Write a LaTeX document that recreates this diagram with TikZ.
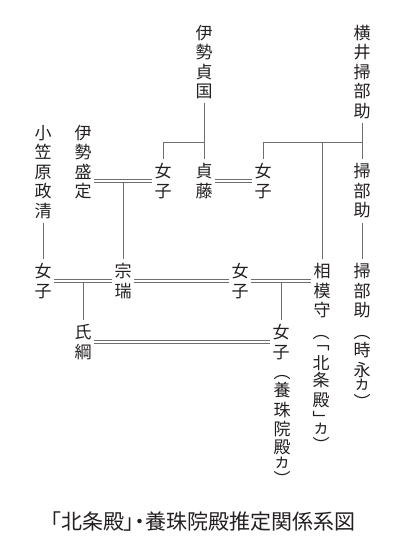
\documentclass[tikz,border=0pt]{standalone}
\usepackage{fontspec}
\newfontfamily\jp{Noto Sans CJK JP}
\newfontfamily\jpcap[RawFeature=+palt]{Noto Sans CJK JP}
\definecolor{linegray}{HTML}{6E6E6E}
\definecolor{ink}{HTML}{231F20}

\begin{document}
\begin{tikzpicture}[x=1pt,y=-1pt,
  every node/.style={font=\jp\fontsize{17pt}{19.5pt}\selectfont,text=ink,align=center,inner xsep=2pt,inner ysep=4pt},
  kin/.style={draw=linegray,line width=0.75pt},
  wed/.style={draw=linegray,line width=0.75pt,double=white,double distance=2.2pt}]
  \useasboundingbox (0,0) rectangle (406,543);
  % first generation
  \node (sadakuni) at (204,62) {伊\\勢\\貞\\国};
  \node (yokoi) at (362,72) {横\\井\\掃\\部\\助};
  \node (ogasawara) at (43,172) {小\\笠\\原\\政\\清};
  \node (morisada) at (83,162) {伊\\勢\\盛\\定};
  % second generation
  \node (jo1) at (163,181) {女\\子};
  \node (sadafuji) at (204,181) {貞\\藤};
  \node (jo2) at (263,181) {女\\子};
  \node (kamon2) at (362,191) {掃\\部\\助};
  % third generation
  \node (jo3) at (43,281) {女\\子};
  \node (souzui) at (123,281) {宗\\瑞};
  \node (jo4) at (240,281) {女\\子};
  \node (sagami) at (322,291) {相\\模\\守};
  \node (kamon3) at (362,291) {掃\\部\\助};
  % fourth generation
  \node (ujitsuna) at (83,342) {氏\\綱};
  \node (jo5) at (281,342) {女\\子};
  % notes
  \node[anchor=north] (tokinaga) at (362,331) {︵\\[-1pt]時\\永\\[-6pt]ヵ\\[-1pt]︶};
  \node[anchor=north] (hojo) at (321,331) {︵\\[-8pt]﹁\\北\\[-2pt]条\\殿\\﹂\\[-12pt]ヵ\\[-1pt]︶};
  \node[anchor=north] (yoju) at (282,371) {︵\\[-1pt]養\\珠\\院\\[-1.5pt]殿\\[-6pt]ヵ\\[-1pt]︶};
  \node[font=\jpcap\fontsize{21pt}{24pt}\selectfont] (title) at (203,522) {「北条殿」・養珠院殿推定関係系図};
  % parents and children
  \coordinate (b1) at (204,142);
  \coordinate (b2) at (362,142);
  \draw[kin] (sadakuni) -- (sadafuji);
  \draw[kin] (b1) -| (jo1);
  \draw[kin] (yokoi) -- (kamon2);
  \draw[kin] (b2) -| (jo2);
  \draw[kin] (sagami) -- (sagami |- b2);
  \draw[kin] (kamon2) -- (kamon3);
  \draw[kin] (ogasawara) -- (jo3);
  \draw[kin] (souzui) -- (souzui |- jo1);
  \draw[kin] (ujitsuna) -- (ujitsuna |- jo3);
  \draw[kin] (jo5) -- (jo5 |- jo4);
  % marriages
  \draw[wed] (jo1.west) -- (jo1.west -| morisada.east);
  \draw[wed] (sadafuji) -- (jo2);
  \draw[wed] (jo3) -- (souzui);
  \draw[wed] (souzui) -- (jo4);
  \draw[wed] (jo4.east) -- (jo4.east -| sagami.west);
  \draw[wed] (ujitsuna) -- (jo5);
\end{tikzpicture}
\end{document}
